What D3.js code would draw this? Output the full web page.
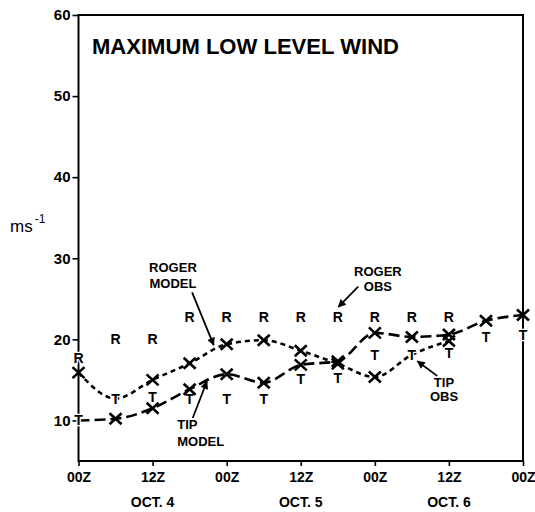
<!DOCTYPE html>
<html>
<head>
<meta charset="utf-8">
<script src="https://cdn.jsdelivr.net/npm/d3@7"></script>
<style>
  html, body { margin: 0; padding: 0; background: #fff; }
  svg { display: block; font-family: "Liberation Sans", Arial, sans-serif; }
</style>
</head>
<body>
<svg id="chart" width="535" height="512"></svg>
<script>
// Forecast hours from 00Z Oct. 4, every 6 h
const hours = [0, 6, 12, 18, 24, 30, 36, 42, 48, 54, 60, 66, 72];

// Observed maximum low-level wind (m/s)
const rogerObs = [17.7, 20.1, 20.1, 22.8, 22.8, 22.8, 22.8, 22.8, 22.8, 22.8, 22.8];
const tipObs   = [10.0, 12.7, 12.9, 12.6, 12.7, 12.7, 15.1, 15.2, 18.1, 18.1, 18.3, 20.3, 20.5];

// Model forecasts (m/s)
const rogerModel = [15.9, 12.7, 15.0, 17.05, 19.4, 19.9, 18.6, 17.0, 15.35, 18.1, 19.8];
const tipModel   = [10.0, 10.2, 11.5, 13.85, 15.7, 14.65, 16.85, 17.3, 20.8, 20.3, 20.6, 22.3, 23.0];

// Axis labels
const yTicks = [10, 20, 30, 40, 50, 60];
const xTickHours = [0, 12, 24, 36, 48, 60, 72];
const xTickLabels = ["00Z", "12Z", "00Z", "12Z", "00Z", "12Z", "00Z"];
const dayHours = [12, 36, 60];
const dayLabels = ["OCT. 4", "OCT. 5", "OCT. 6"];

// Callouts: text lines, anchor (hour, value), arrow from/to (hour, value)
const callouts = [
  { lines: ["ROGER", "MODEL"], h: 15.3, v: 28.3, gap: 16, anchor: "middle", from: [18.4, 25.8], to: [21.9, 19.3] },
  { lines: ["ROGER", "OBS"],   h: 48.5, v: 27.8, gap: 14.5, anchor: "middle", from: [45.3, 26.5], to: [42.1, 24.0] },
  { lines: ["TIP", "OBS"],     h: 59.2, v: 14.1, gap: 14, anchor: "middle", from: [58.1, 15.5], to: [54.9, 17.3] },
  { lines: ["TIP", "MODEL"],   h: 16.0, v: 9.0,  gap: 17, anchor: "start",  from: [18.5, 10.3], to: [20.8, 14.8] }
];

const svg = d3.select("#chart");
const plotLeft = 78.5, plotRight = 523, plotTop = 15, plotBottom = 461;

const x = d3.scaleLinear().domain([0, 72]).range([plotLeft, plotRight]);
const y = d3.scaleLinear().domain([5, 60]).range([plotBottom, plotTop]);

// arrowhead
svg.append("defs").append("marker")
  .attr("id", "head")
  .attr("viewBox", "0 0 10 10")
  .attr("refX", 9).attr("refY", 5)
  .attr("markerWidth", 9).attr("markerHeight", 8)
  .attr("markerUnits", "userSpaceOnUse")
  .attr("orient", "auto")
  .append("path").attr("d", "M0,0L10,5L0,10Z").attr("fill", "#000");

// plot frame
svg.append("rect")
  .attr("x", plotLeft).attr("y", plotTop)
  .attr("width", plotRight - plotLeft).attr("height", plotBottom - plotTop)
  .attr("fill", "none").attr("stroke", "#000").attr("stroke-width", 2);

// y axis
const yAxis = svg.append("g")
  .attr("transform", `translate(${plotLeft},0)`)
  .call(d3.axisLeft(y).tickValues(yTicks).tickSize(6).tickPadding(2).tickFormat(d3.format("d")));
yAxis.select(".domain").remove();
yAxis.selectAll("line").attr("stroke", "#000").attr("stroke-width", 1.6);
yAxis.selectAll("text")
  .attr("font-family", "Liberation Sans, Arial, sans-serif")
  .attr("font-size", 15).attr("font-weight", "bold").attr("fill", "#000");

// x axis
const xAxis = svg.append("g")
  .attr("transform", `translate(0,${plotBottom})`)
  .call(d3.axisBottom(x).tickValues(xTickHours).tickSize(5).tickPadding(6)
    .tickFormat((d, i) => xTickLabels[i]));
xAxis.select(".domain").remove();
xAxis.selectAll("line").attr("stroke", "#000").attr("stroke-width", 1.6);
xAxis.selectAll("text")
  .attr("font-family", "Liberation Sans, Arial, sans-serif")
  .attr("font-size", 14).attr("font-weight", "bold").attr("fill", "#000");

// day labels
svg.append("g").selectAll("text")
  .data(dayLabels)
  .join("text")
  .attr("x", (d, i) => x(dayHours[i]))
  .attr("y", 507)
  .attr("text-anchor", "middle")
  .attr("font-size", 14).attr("font-weight", "bold")
  .text(d => d);

// unit label
const unit = svg.append("text").attr("x", 10).attr("y", 232).attr("font-size", 17);
unit.append("tspan").text("ms");
unit.append("tspan").attr("dx", 2).attr("dy", -9).attr("font-size", 12).text("-1");

// title
svg.append("text")
  .attr("x", 92).attr("y", 54)
  .attr("font-size", 22).attr("font-weight", "bold")
  .attr("textLength", 307).attr("lengthAdjust", "spacingAndGlyphs")
  .text("MAXIMUM LOW LEVEL WIND");

// model forecast curves
const toPoints = vals => vals.map((v, i) => ({ h: hours[i], v, i }));
const line = d3.line().x(d => x(d.h)).y(d => y(d.v)).curve(d3.curveMonotoneX);

const models = [
  { name: "roger", vals: rogerModel, dash: "5,4" },
  { name: "tip",   vals: tipModel,   dash: "11,5" }
];

svg.append("g").selectAll("path")
  .data(models)
  .join("path")
  .attr("d", m => line(toPoints(m.vals)))
  .attr("fill", "none")
  .attr("stroke", "#000")
  .attr("stroke-width", 2.6)
  .attr("stroke-dasharray", m => m.dash);

// observation letters
const obsLayer = svg.append("g")
  .attr("font-size", 14).attr("font-weight", "bold")
  .attr("text-anchor", "middle");

obsLayer.selectAll("text.r")
  .data(toPoints(rogerObs))
  .join("text").attr("class", "r")
  .attr("x", d => x(d.h)).attr("y", d => y(d.v) + 5)
  .attr("stroke", "#fff").attr("stroke-width", 2.5).attr("paint-order", "stroke")
  .text("R");

obsLayer.selectAll("text.t")
  .data(toPoints(tipObs))
  .join("text").attr("class", "t")
  .attr("x", d => x(d.h)).attr("y", d => y(d.v) + 5)
  .attr("stroke", "#fff").attr("stroke-width", 2.5).attr("paint-order", "stroke")
  .text("T");

// forecast crosses; where a forecast sits on the Tip observation the T is shown alone
const crossPts = models.flatMap(m =>
  toPoints(m.vals).filter(d => d.v !== tipObs[d.i]));

svg.append("g").selectAll("path")
  .data(crossPts)
  .join("path")
  .attr("transform", d => `translate(${x(d.h)},${y(d.v)})`)
  .attr("d", "M-6,-5.5L6,5.5M-6,5.5L6,-5.5")
  .attr("stroke", "#000")
  .attr("stroke-width", 2.6)
  .attr("fill", "none");

// callouts with arrows
const cg = svg.append("g").attr("font-size", 13).attr("font-weight", "bold");
callouts.forEach(c => {
  c.lines.forEach((t, k) => {
    cg.append("text")
      .attr("x", x(c.h)).attr("y", y(c.v) + k * c.gap)
      .attr("text-anchor", c.anchor)
      .text(t);
  });
  cg.append("line")
    .attr("x1", x(c.from[0])).attr("y1", y(c.from[1]))
    .attr("x2", x(c.to[0])).attr("y2", y(c.to[1]))
    .attr("stroke", "#000").attr("stroke-width", 1.8)
    .attr("marker-end", "url(#head)");
});
</script>
</body>
</html>
